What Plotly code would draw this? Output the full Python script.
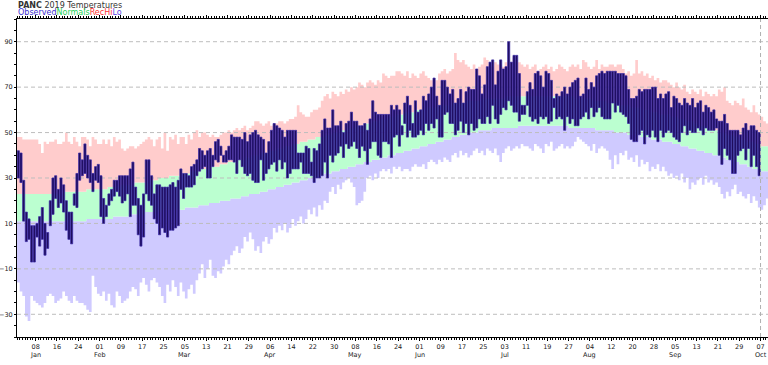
import plotly.graph_objects as go

# ---- data (day 0 = Jan 1, 2019) ----
norm_hi = (
    [23]*17 + [24]*9 + [25]*5 +                                   # Jan
    [25,25,25,26,26,26,26,26,27,27,27,27,27,28,28,28,28,28,29,29,29,29,30,30,30,30,31,31] +
    [31,31,31,32,32,32,33,33,33,33,34,34,34,35,35,35,35,36,36,36,37,37,37,38,38,38,39,39,39,40,40] +
    [40,41,41,41,42,42,42,43,43,43,44,44,44,45,45,45,46,46,46,47,47,47,48,48,48,49,49,49,50,50] +
    [50,51,51,51,52,52,52,53,53,53,54,54,54,55,55,55,56,56,56,57,57,57,58,58,58,59,59,59,59,60,60] +
    [60,60,60,61,61,61,61,62,62,62,62,62,63,63,63,63,63,64,64,64,64,64,64,65,65,65,65,65,65,65] +
    [65,65] + [66]*26 + [65,65,65] +
    [65,65,65,65,64,64,64,64,64,63,63,63,63,63,62,62,62,62,61,61,61,61,60,60,60,60,59,59,59,58,58] +
    [58,58,57,57,57,56,56,56,55,55,55,54,54,53,53,53,52,52,51,51,51,50,50,49,49,49,48,48,47,47] +
    [47,46,46,46,45,45,44,44,44,43]
)
norm_lo = (
    [11]*26 + [12]*5 +
    [12,12,12,12,12,13,13,13,13,13,13,14,14,14,14,14,14,15,15,15,15,15,15,16,16,16,16,16] +
    [16,16,16,16,17,17,17,17,17,18,18,18,18,19,19,19,19,20,20,20,20,21,21,21,21,22,22,22,23,23,23] +
    [23,24,24,24,25,25,25,26,26,26,27,27,27,28,28,28,29,29,29,30,30,30,31,31,31,32,32,32,33,33] +
    [33,34,34,34,35,35,35,36,36,36,37,37,37,38,38,38,39,39,39,40,40,40,41,41,41,42,42,42,43,43,43] +
    [44,44,44,45,45,45,46,46,46,47,47,47,48,48,48,49,49,49,50,50,50,50,51,51,51,51,51,52,52,52] +
    [52]*7 + [53]*19 + [52]*5 +
    [52,52,52,52,52,51,51,51,51,51,51,51,50,50,50,50,50,49,49,49,49,49,48,48,48,48,47,47,47,47,46] +
    [46,46,46,45,45,45,44,44,44,43,43,43,42,42,42,41,41,41,40,40,40,39,39,38,38,38,37,37,36,36] +
    [36,35,35,34,34,34,33,33,33,32]
)
rec_hi = (
    [48,48,47,47,47,47,47,47,45,41,46,45,46,46,47,45,45,46,50,46,45,48,46,44,48,48,47,44,48,47,45] +
    [45,47,45,47,44,48,46,47,43,42,43,44,44,43,44,45,46,47,48,47,44,47,48,43,50,42,48,47] +
    [49,45,48,48,45,49,47,50,51,48,50,50,49,48,49,48,48,49,50,50,51,50,51,52,51,52,53,51,52,53,55] +
    [55,54,53,54,55,53,54,54,55,55,54,55,56,56,57,62,59,58,57,57,59,60,60,61,64,66,67,65,68,67] +
    [66,68,67,69,68,70,69,70,72,71,70,72,73,72,71,73,72,76,75,74,75,75,77,77,76,75,77,74,76,75,74] +
    [76,77,75,74,73,74,73,76,77,78,76,77,78,85,82,81,82,80,79,78,80,78,79,80,83,82,80,79,81,80] +
    [80,79,81,82,81,83,82,81,80,79,80,78,79,80,77,78,79,80,78,79,77,78,80,79,78,77,79,80,79,80,78] +
    [82,81,79,78,79,82,78,80,79,79,80,80,79,80,80,78,76,77,75,76,82,76,77,75,76,74,75,73,74,72,73] +
    [73,72,71,70,72,70,69,71,68,67,69,68,67,69,66,68,67,66,67,66,69,68,70,64,63,62,64,63,62,65] +
    [61,60,59,62,59,58,57,55,54,64]
)
rec_lo = (
    [-16,-20,-22,-31,-33,-22,-24,-25,-26,-27,-25,-22,-21,-22,-25,-24,-23,-20,-22,-24,-25,-22,-24,-25,-25,-26,-28,-29,-13,-18,-21] +
    [-22,-20,-24,-21,-26,-27,-20,-22,-25,-24,-23,-20,-18,-19,-22,-16,-14,-17,-20,-15,-14,-16,-18,-22,-25,-17,-20,-15] +
    [-18,-22,-16,-20,-23,-19,-17,-21,-15,-12,-8,-14,-10,-6,-13,-14,-11,-12,-9,-6,-8,-4,-2,0,-3,-1,4,2,6,3,-2] +
    [0,-3,2,4,1,3,8,6,9,7,10,6,8,12,9,11,13,10,12,16,14,17,13,18,16,20,19,24,26,23] +
    [27,25,28,29,30,28,26,18,19,20,24,30,31,29,32,30,33,34,33,34,32,35,34,35,33,34,34,33,35,36,35] +
    [35,36,34,37,38,37,36,38,37,39,38,37,40,41,39,42,40,41,39,40,42,43,41,42,40,43,42,41,43,40] +
    [37,41,43,44,42,43,44,43,45,44,44,43,42,45,44,43,41,45,44,46,42,43,44,45,43,44,43,44,46,48,47] +
    [46,45,44,42,45,41,43,44,43,42,38,34,40,36,41,40,42,38,39,37,40,35,38,36,37,33,35,34,36,33,35] +
    [33,31,32,30,31,29,32,28,30,25,28,27,29,30,27,31,28,29,27,28,26,23,21,24,22,25,27,23,24,22] +
    [21,23,19,22,20,17,16,18,21,19]
)
obs_hi = (
    [42,41,29,15,12,9,9,10,13,17,10,6,20,30,31,25,30,27,20,15,15,23,32,41,38,45,40,38,32,35,36] +
    [31,21,18,23,25,29,29,31,31,31,31,34,37,26,21,18,23,38,38,31,23,27,27,26,26,26,27,28] +
    [26,29,34,32,32,31,35,36,38,43,42,40,42,43,40,46,47,44,40,42,44,49,48,48,48,47,50,46,49,50,51] +
    [49,48,47,41,46,51,54,53,52,51,48,51,51,51,51,41,41,41,44,43,37,43,42,45,51,56,52,52,60,53] +
    [53,55,50,54,55,59,55,55,53,53,54,51,56,64,59,58,58,58,58,58,62,60,62,60,53,63,66,62,54,64,59] +
    [60,66,64,67,70,74,66,62,73,73,70,67,69,63,65,69,63,68,70,69,69,78,75,67,71,79,81,82,71,77] +
    [82,78,79,90,81,84,84,76,62,62,68,72,69,76,77,75,70,77,76,73,65,67,66,68,70,67,70,72,73,74,66] +
    [67,74,69,72,70,75,76,77,76,77,77,77,77,76,76,76,75,69,65,65,66,69,68,69,69,69,70,70,65,67,65] +
    [67,68,61,66,65,63,62,65,63,62,65,61,63,64,59,62,61,59,60,56,55,55,58,54,51,51,51,51,49,52] +
    [54,51,53,53,51,50]
)
obs_lo = (
    [30,28,11,2,3,-7,-7,4,0,3,-4,-1,9,14,21,17,19,15,7,3,1,18,17,29,31,32,30,28,24,29,28] +
    [13,10,13,18,20,22,24,22,19,20,23,13,18,18,5,0,4,23,20,18,12,10,5,8,6,4,7,7] +
    [8,9,25,21,26,26,26,27,31,33,34,35,30,30,35,38,37,40,37,37,38,38,37,32,38,35,32,31,32,29,28] +
    [28,38,29,32,34,36,37,33,38,34,37,30,32,34,34,34,37,32,32,32,31,28,30,30,31,37,30,40,37,40] +
    [41,44,39,45,43,44,46,43,39,44,42,36,43,46,46,40,39,46,46,45,39,48,49,44,49,54,48,51,48,48,49] +
    [51,49,54,51,54,52,56,48,48,58,59,54,54,49,51,55,50,54,49,54,51,52,56,54,54,57,54,62,56,54] +
    [58,61,60,64,62,59,59,55,58,58,62,57,55,56,54,57,56,57,54,55,61,56,57,56,51,57,54,56,53,53,56] +
    [57,59,56,61,57,59,61,57,56,56,56,63,59,62,59,58,57,54,47,46,46,49,51,45,49,48,51,48,46,51,48] +
    [50,51,50,48,47,46,50,53,49,51,50,50,52,51,49,52,51,51,51,52,40,36,43,40,38,32,32,40,42,43] +
    [38,43,35,40,35,31]
)
tick_days = [7,15,23,31,39,47,55,63,71,79,87,95,103,111,119,127,135,143,151,159,167,175,
             183,191,199,207,215,223,231,239,247,255,263,271,279]
tick_text = ["08","16","24","01","09","17","25","05","13","21","29",
             "06","14","22","30","08","16","24","01","09","17","25",
             "03","11","19","27","04","12","20","28","05","13","21","29","07"]
month_days = [7,31,63,95,127,151,183,215,247,279]
month_names = ["Jan","Feb","Mar","Apr","May","Jun","Jul","Aug","Sep","Oct"]
y_ticks = [-30,-10,10,30,50,70,90]
today = 279

n = len(norm_hi)
assert len(norm_lo) == n and len(rec_hi) == n and len(rec_lo) == n
assert len(obs_hi) == len(obs_lo)

X_RANGE = [0, 281.8]
Y_RANGE = [-40, 100]
GRID_DASH = "4px,3px"

x_edges = list(range(n + 1))
x_obs = [i + 0.5 for i in range(len(obs_hi))]

def step(vals):
    return list(vals) + [vals[-1]]

fig = go.Figure()
band = dict(mode="lines", line=dict(width=0, shape="hv"), hoverinfo="skip")
fig.add_scatter(x=x_edges, y=step(rec_lo), **band)
fig.add_scatter(x=x_edges, y=step(norm_lo), fill="tonexty", fillcolor="#cfcaff", **band)
fig.add_scatter(x=x_edges, y=step(norm_hi), fill="tonexty", fillcolor="#bbffd0", **band)
fig.add_scatter(x=x_edges, y=step(rec_hi), fill="tonexty", fillcolor="#ffcccc", **band)

# horizontal dashed grid, drawn over the bands (as in the original)
gx, gy = [], []
for v in y_ticks:
    gx += [X_RANGE[0], X_RANGE[1], None]
    gy += [v, v, None]
fig.add_scatter(x=gx, y=gy, mode="lines", hoverinfo="skip",
                line=dict(color="#bdbdbd", width=1, dash=GRID_DASH))

# observed bars on an overlaying subplot so they sit above the filled bands
fig.add_bar(x=x_obs, base=obs_lo, y=[h - b for h, b in zip(obs_hi, obs_lo)], width=0.8,
            xaxis="x2", yaxis="y2",
            marker=dict(color="#1e0d5c", line=dict(color="#3a2aa8", width=0.7)))

tickfont = dict(family="DejaVu Sans", size=6.5, color="#222")
annotations = [
    dict(xref="paper", yref="paper", x=0, y=1 + 14/318, xanchor="left", yanchor="middle",
         showarrow=False, borderpad=0, text="<b>PANC</b> 2019 Temperatures",
         font=dict(family="DejaVu Sans", size=8, color="#333")),
    dict(xref="paper", yref="paper", x=0, y=1 + 6.5/318, xanchor="left", yanchor="middle",
         showarrow=False, borderpad=0,
         text="<span style='color:#3b2fd0'>Observed</span>"
              "<span style='color:#1fd35a'>Normals</span>"
              "<span style='color:#ff3333'>RecHi</span>"
              "<span style='color:#5a48e8'>Lo</span>",
         font=dict(family="DejaVu Sans", size=8)),
]
for d, m in zip(month_days, month_names):
    annotations.append(dict(xref="x", yref="paper", x=d, y=-(355 - 337) / 318,
                            xanchor="center", yanchor="middle", showarrow=False, text=m,
                            font=tickfont))

fig.update_layout(
    width=768, height=365, showlegend=False, barmode="overlay",
    margin=dict(l=17, r=0, t=19, b=28),
    paper_bgcolor="white", plot_bgcolor="white",
    xaxis=dict(range=X_RANGE, tickmode="array", tickvals=tick_days, ticktext=tick_text,
               ticks="outside", ticklen=3, tickcolor="#000", tickwidth=1,
               showline=True, linecolor="#000", linewidth=1, mirror="ticks",
               showgrid=False, zeroline=False, tickfont=tickfont, automargin=False,
               minor=dict(tickmode="array", tickvals=list(range(0, 283)), ticks="outside",
                          ticklen=2, tickcolor="#000", showgrid=False)),
    yaxis=dict(range=Y_RANGE, tickmode="array", tickvals=y_ticks,
               ticks="outside", ticklen=2, tickcolor="#000",
               showline=True, linecolor="#000", linewidth=1, mirror=False,
               showgrid=False, zeroline=False, tickfont=tickfont, automargin=False,
               layer="above traces",
               minor=dict(tickmode="array", tickvals=list(range(-40, 101, 5)), ticks="outside",
                          ticklen=2, tickcolor="#000", showgrid=False)),
    xaxis2=dict(overlaying="x", range=X_RANGE, visible=False),
    yaxis2=dict(overlaying="y", range=Y_RANGE, visible=False),
    shapes=[dict(type="line", xref="x", yref="paper", x0=today, x1=today, y0=0, y1=1,
                 line=dict(color="#b0b0b0", width=1, dash=GRID_DASH), layer="above")],
    annotations=annotations,
)
fig.write_html("out.html", config={"displayModeBar": False},
               post_script="document.body.style.margin='0';document.body.style.overflow='hidden';")
